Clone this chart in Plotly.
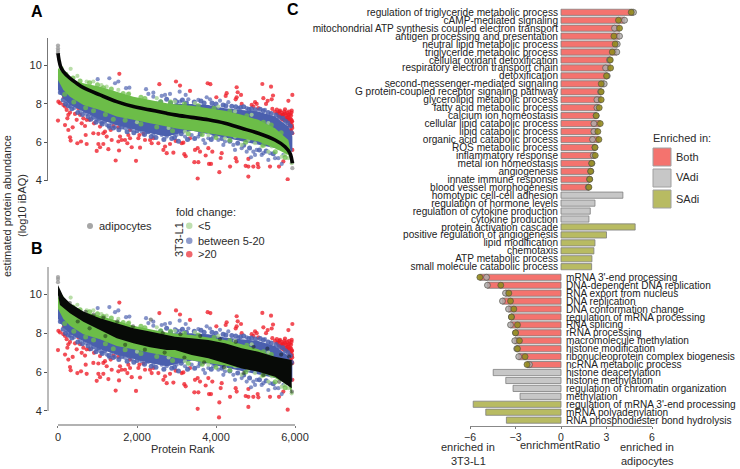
import plotly.graph_objects as go

W, H = 740, 469
FONT = "Liberation Sans"
INK = "#2b2b2b"

# ---------- panels A / B: rank vs log10 iBAQ ----------
adipo_curve_rank = [0, 25, 66, 136, 304, 473, 642, 1064, 1486, 1908, 2330, 2752, 2962, 3384, 3806, 4228, 4650, 5072, 5494, 5747, 5874, 5933]
adipo_curve_value = [10.64, 10.3, 9.95, 9.69, 9.34, 9.08, 8.85, 8.47, 8.12, 7.86, 7.69, 7.51, 7.43, 7.3, 7.17, 6.99, 6.73, 6.47, 6.12, 5.77, 5.43, 4.9]
adipo_top_a_rank = [0, 0, 0, 0, 5933, 5933]
adipo_top_a_value = [11.05, 10.9, 10.78, 10.65, 4.95, 4.65]
adipo_top_b_rank = [0, 0, 0]
adipo_top_b_value = [10.88, 10.78, 10.62]

green_top_rank = [0, 136, 304, 473, 642, 1064, 1486, 1908, 2330, 2752, 2962, 3384, 3806, 4228, 4650, 5072, 5494, 5832, 5916]
green_top_value = [9.86, 9.6, 9.34, 9.17, 9.08, 8.9, 8.64, 8.38, 8.2, 8.04, 7.98, 7.9, 7.78, 7.65, 7.43, 7.17, 6.73, 6.12, 5.25]
green_low_rank = [0, 136, 304, 642, 1064, 1486, 1908, 2330, 2752, 2962, 3806, 4650, 5072, 5494, 5832, 5916]
green_low_value = [9.25, 8.73, 8.38, 7.95, 7.69, 7.34, 7.17, 6.99, 6.82, 6.73, 6.47, 6.2, 6.04, 5.69, 5.34, 4.9]

blue_top_rank = [0, 642, 1486, 2330, 2962, 3384, 3806, 4228, 4650, 5072, 5494, 5832, 5933]
blue_top_value = [9.5, 8.6, 8.0, 7.8, 8.0, 8.0, 7.95, 7.78, 7.69, 7.6, 7.34, 6.82, 6.3]
blue_low_rank = [0, 136, 304, 642, 1064, 1486, 1908, 2330, 2752, 2962, 3400, 5933]
blue_low_value = [8.73, 8.3, 7.95, 7.6, 7.17, 6.9, 6.68, 6.47, 6.3, 6.4, 6.6, 5.5]

black_top_rank = [0, 136, 304, 642, 1064, 1486, 1908, 2330, 2752, 2962, 3384, 3806, 4228, 4650, 5072, 5494, 5916]
black_top_value = [10.48, 9.88, 9.54, 9.11, 8.77, 8.51, 8.25, 8.08, 7.91, 7.82, 7.74, 7.65, 7.48, 7.22, 7.05, 6.79, 6.62]
black_low_rank = [0, 50, 304, 642, 1064, 1486, 1908, 2330, 2752, 2962, 3384, 3806, 4228, 4650, 5072, 5494, 5916]
black_low_value = [9.96, 9.45, 9.02, 8.59, 8.16, 7.74, 7.48, 7.27, 7.14, 7.14, 6.88, 6.71, 6.45, 6.19, 6.02, 5.76, 5.17]
black_dot_rank = [300, 520, 700, 900, 1150, 1500, 1900, 2350, 2650, 3100, 3600, 4100, 4500, 4950, 5300, 5650, 5850, 5900, 5800, 5600, 5200, 4700, 4200, 3700, 3200, 2700, 2200, 1700, 1200, 800, 500, 5920, 5880]
black_dot_value = [9.55, 9.1, 9.1, 8.95, 8.8, 8.6, 8.35, 8.7, 8.0, 7.95, 7.85, 7.7, 7.55, 7.3, 7.2, 6.9, 6.8, 6.4, 6.2, 5.5, 5.85, 5.95, 6.25, 6.5, 6.75, 7.0, 7.15, 7.4, 7.85, 8.25, 8.6, 5.0, 5.6]

green_dot_rank = [321, 490, 726, 895, 1233, 1528, 2962, 3468, 4059, 4481, 4903, 5325, 3215, 3806, 4228, 4650, 4481, 4819, 4988, 5156, 5325, 5410, 5578, 5663, 5747, 5832, 5916, 3468, 1100, 1800, 2500, 2000, 2800]
green_dot_value = [9.83, 9.46, 9.17, 9.17, 8.9, 8.73, 8.12, 8.04, 7.86, 7.6, 7.43, 7.0, 6.56, 6.38, 6.21, 5.86, 6.3, 6.12, 5.95, 5.78, 5.51, 5.78, 5.69, 5.25, 5.34, 5.17, 4.91, 6.73, 8.98, 8.55, 8.3, 7.05, 6.75]
green_edge_rank = [80, 200, 380, 560, 800, 1000, 1150, 1350, 1650, 1780, 2100, 2200, 2600, 2850, 3200, 3550, 3950, 4350, 4780, 5200, 5400, 5650, 170, 400, 700, 900, 1200, 1400, 1700, 2100, 2500, 2900, 3300, 3650, 4000, 4350, 4750, 5200, 5500, 5750]
green_edge_value = [9.85, 9.55, 9.35, 9.2, 9.1, 9.0, 8.85, 8.78, 8.55, 8.5, 8.35, 8.28, 8.12, 8.1, 8.0, 7.9, 7.78, 7.62, 7.38, 7.05, 6.9, 6.5, 8.5, 8.1, 7.8, 7.65, 7.45, 7.2, 7.15, 6.95, 6.8, 6.6, 6.45, 6.4, 6.25, 6.1, 6.0, 5.85, 5.5, 5.2]

blue_dot_rank = [1005, 1300, 1528, 1444, 1722, 1807, 2229, 2288, 2414, 2414, 2625, 2710, 2836, 93, 220, 304, 406, 558, 726, 853, 980, 1064, 1233, 1359, 1444, 1570, 1697, 1866, 1950, 2119, 2246, 2414, 2541, 2625, 2752, 2921, 2457, 2161, 1100, 1300, 3080, 3232, 2962, 3089, 3300, 3553, 3764, 3848, 4101, 4312, 3933, 4566, 4777, 5241, 3004, 3215, 3384, 3679, 3806, 3933, 4059, 4186, 4228, 4439, 4481, 4650, 4777, 4945, 5030, 4988, 4886, 5156, 5199, 5325, 5494, 5578, 5367, 5705, 5663, 3173, 3553, 3722]
blue_dot_value = [9.29, 9.34, 9.17, 9.08, 8.82, 8.85, 8.77, 8.52, 8.59, 8.38, 8.42, 8.47, 8.52, 8.56, 8.12, 7.86, 7.78, 7.6, 7.48, 7.43, 7.17, 7.08, 6.9, 6.99, 6.78, 6.9, 6.73, 6.64, 6.78, 6.56, 6.56, 6.38, 6.5, 6.38, 6.3, 6.47, 6.73, 6.85, 7.0, 6.75, 8.64, 8.47, 8.21, 8.12, 8.24, 8.21, 8.35, 8.24, 8.17, 8.09, 7.86, 7.78, 7.78, 7.69, 6.38, 6.3, 6.38, 6.12, 6.21, 6.3, 6.12, 5.86, 6.04, 5.86, 5.6, 5.69, 5.51, 5.51, 5.6, 5.34, 5.22, 5.34, 5.43, 5.08, 5.17, 5.17, 5.43, 5.34, 4.87, 6.56, 6.3, 5.95]
blue_edge_rank = [60, 130, 190, 260, 350, 500, 620, 680, 760, 830, 900, 960, 1030, 1120, 1180, 1290, 1400, 1480, 1540, 1620, 1750, 1800, 1920, 2000, 2080, 2190, 2280, 2360, 2480, 2590, 2680, 2800, 2880, 2950, 3050, 3120, 3280, 3460, 3600, 3880, 3990, 4150, 4350, 4550, 4700, 4850, 5100, 5270, 5450,
                  2500, 2600, 2750, 2850, 3000, 3150, 3250, 3450, 3620, 3700, 3900, 4000, 4180, 4250, 4400, 4500, 4620, 4700, 4830, 4900, 5000, 5120, 5200, 5320, 5400, 5520, 5600, 5690, 5760, 5820, 5880, 5910]
blue_edge_value = [8.6, 8.2, 8.0, 7.9, 7.75, 7.55, 7.45, 7.65, 7.35, 7.2, 7.3, 7.05, 7.25, 6.95, 7.1, 6.85, 6.75, 7.0, 6.65, 6.8, 6.55, 6.8, 6.5, 6.6, 6.7, 6.4, 6.55, 6.3, 6.25, 6.55, 6.15, 6.45, 6.2, 6.25, 6.05, 6.45, 6.15, 6.2, 6.45, 6.15, 6.4, 6.2, 6.05, 5.95, 5.85, 5.7, 5.6, 5.55, 5.4,
                   8.0, 8.1, 8.25, 8.05, 8.12, 8.2, 8.05, 8.1, 8.15, 8.05, 8.05, 8.0, 7.95, 7.9, 7.88, 7.85, 7.82, 7.85, 7.72, 7.75, 7.7, 7.72, 7.65, 7.55, 7.5, 7.42, 7.3, 7.25, 7.1, 7.0, 6.85, 6.5]

red_rank = [10, 152, 51, 178, 220, 136, 262, 304, 515, 431, 0, 178, 237, 473, 558, 642, 726, 794, 600, 684, 372, 262, 912, 1064, 1190, 1402, 1528, 304, 321, 490, 583, 701, 726, 895, 1022, 1148, 1233, 1359, 1022, 1064, 1148, 1275, 980, 1545, 1460, 1975, 1553, 2566, 1824, 1781, 1570, 1613, 1528, 1697, 1756, 1824, 1866, 2077, 2060, 2161, 2035, 2203, 2330, 2414, 2541, 2372, 2710, 2836, 2752, 2668, 2921, 1334,
            2987, 3089, 3789, 3857, 3342, 4523, 5173, 5393, 4270, 4245, 4549, 4633, 4523, 4498, 4009, 5443, 5933, 5199, 5832, 5916, 5308, 5266, 5410, 4650, 4903, 4988, 5030, 4945, 5072, 5426, 5494, 5578, 5663, 5747, 5832, 5874, 5916, 5789, 5705, 5916, 5874, 5933, 2979, 3131, 3173, 3342, 3468, 3536, 3595, 3806, 3907, 3198, 3232, 3738, 4144, 4118, 3452, 3553, 3823, 3874, 4498, 4523, 4085, 4355, 3536, 4751, 4819, 4945, 5055, 5072, 4819, 5367, 5595, 5705, 4819, 5815, 5933,
            5600, 5650, 5700, 5750, 5800, 5850, 5880, 5900, 5920, 5900, 5860, 5780, 5820, 5540, 5620, 4076,
            5550, 5610, 5670, 5720, 5770, 5830, 5870, 5900, 5925, 5890, 5930, 5850, 5800, 5730, 5680, 5910]
red_value = [8.12, 8.35, 8.04, 7.86, 7.69, 7.95, 7.43, 7.55, 7.78, 7.48, 7.13, 6.9, 7.25, 7.17, 7.43, 7.25, 7.17, 7.17, 6.99, 6.85, 6.78, 6.64, 6.99, 6.82, 6.56, 6.85, 6.78, 6.26, 6.09, 5.95, 6.04, 6.38, 5.91, 6.47, 6.44, 6.47, 6.3, 6.12, 5.91, 5.74, 5.91, 5.64, 5.55, 5.57, 5.05, 5.03, 9.57, 9.03, 6.64, 6.38, 6.3, 6.12, 6.04, 6.12, 5.95, 6.21, 5.74, 5.72, 6.38, 6.44, 6.21, 6.12, 6.12, 6.21, 5.95, 5.95, 5.78, 5.91, 5.43, 5.6, 5.46, 6.64,
             9.17, 8.96, 9.08, 9.03, 8.68, 8.87, 9.04, 8.9, 8.56, 8.42, 8.61, 8.47, 8.35, 8.24, 8.35, 8.44, 8.47, 8.3, 8.16, 7.65, 8.16, 8.0, 8.24, 8.0, 7.95, 8.09, 8.0, 7.86, 7.78, 7.74, 7.6, 7.51, 7.55, 7.72, 7.43, 7.25, 7.08, 7.17, 7.43, 6.82, 6.64, 6.47, 6.07, 5.95, 5.98, 6.21, 5.6, 5.69, 5.51, 5.69, 5.51, 5.38, 5.27, 5.31, 5.43, 5.18, 4.96, 4.96, 4.87, 4.87, 5.17, 5.0, 4.44, 4.73, 4.11, 4.77, 4.73, 4.73, 4.87, 4.7, 5.13, 4.73, 4.73, 5.0, 4.21, 4.07, 5.6,
             7.6, 7.4, 7.3, 7.5, 7.3, 7.6, 7.0, 7.4, 6.9, 6.6, 6.9, 7.4, 7.1, 7.7, 7.65, 3.67,
             7.5, 7.35, 7.2, 7.15, 7.25, 7.3, 7.45, 7.2, 7.1, 6.9, 6.75, 7.15, 7.55, 7.6, 7.45, 7.55]

abundance_ticks = [4, 6, 8, 10]
rank_ticks = [0, 2000, 4000, 6000]
rank_tick_labels = ["0", "2,000", "4,000", "6,000"]

# ---------- panel C: enrichment ratios ----------
both_up_terms = ["regulation of triglyceride metabolic process", "cAMP-mediated signaling", "mitochondrial ATP synthesis coupled electron transport", "antigen processing and presentation", "neutral lipid metabolic process", "triglyceride metabolic process", "cellular oxidant detoxification", "respiratory electron transport chain", "detoxification", "second-messenger-mediated signaling", "G protein-coupled receptor signaling pathway", "glycerolipid metabolic process", "fatty acid metabolic process", "calcium ion homeostasis", "cellular lipid catabolic process", "lipid catabolic process", "organic acid catabolic process", "ROS metabolic process", "inflammatory response", "metal ion homeostasis", "angiogenesis", "innate immune response", "blood vessel morphogenesis"]
both_up_sadi = [4.63, 3.79, 3.86, 3.49, 3.57, 3.38, 3.25, 3.27, 3.0, 2.65, 2.65, 2.65, 2.52, 2.32, 2.59, 2.43, 2.5, 2.24, 2.26, 2.02, 1.95, 1.89, 1.84]
both_up_vadi = [4.78, 4.19, 3.53, 3.86, 3.71, 3.68, 3.2, 2.94, 3.05, 2.85, 2.61, 2.37, 2.37, 2.32, 2.17, 2.17, 2.08, 2.24, 2.13, 2.04, 1.97, 1.89, 1.8]
vadi_up_terms = ["homotypic cell-cell adhesion", "regulation of hormone levels", "regulation of cytokine production", "cytokine production"]
vadi_up_values = [4.08, 2.24, 1.93, 1.84]
sadi_up_terms = ["protein activation cascade", "positive regulation of angiogenesis", "lipid modification", "chemotaxis", "ATP metabolic process", "small molecule catabolic process"]
sadi_up_values = [4.89, 3.0, 2.24, 2.17, 2.04, 2.02]

both_down_terms = ["mRNA 3'-end processing", "DNA-dependent DNA replication", "RNA export from nucleus", "DNA replication", "DNA conformation change", "regulation of mRNA processing", "RNA splicing", "rRNA processing", "macromolecule methylation", "histone modification", "ribonucleoprotein complex biogenesis", "ncRNA metabolic process"]
both_down_sadi = [-5.35, -3.97, -3.44, -3.33, -3.11, -3.27, -2.87, -3.0, -2.74, -2.87, -2.37, -2.24]
both_down_vadi = [-4.91, -4.85, -3.66, -3.86, -3.46, -3.27, -3.33, -3.0, -3.05, -2.92, -2.79, -2.08]
vadi_down_terms = ["histone deacetylation", "histone methylation", "regulation of chromatin organization", "methylation"]
vadi_down_values = [-4.47, -3.64, -3.16, -2.7]
sadi_down_terms = ["regulation of mRNA 3'-end processing", "mRNA polyadenylation", "RNA phosphodiester bond hydrolysis"]
sadi_down_values = [-5.79, -4.96, -3.6]
ratio_ticks = [-6, -3, 0, 3, 6]

both_up_bar = [max(a, b) for a, b in zip(both_up_sadi, both_up_vadi)]
both_down_bar = [min(a, b) for a, b in zip(both_down_sadi, both_down_vadi)]

# ---------- styles ----------
C_RED, C_BLUE, C_GREEN, C_PALE = "#ee1c28", "#4a5fae", "#6cbd48", "#a9d694"
C_GREY = "#9a9a9a"
C_BOTH, C_VADI, C_SADI = "#f4736e", "#c7c7c7", "#b8bb62"
DOT_SADI, DOT_VADI = "rgba(150,140,30,0.9)", "rgba(175,170,170,0.85)"
EDGE = "#7d7d7d"


def px_x(p):
    return p / W


def px_y(p):
    return 1 - p / H


fig = go.Figure()


def dots(x, y, color, xa, ya, size=4.2, opacity=0.78):
    fig.add_trace(go.Scatter(x=x, y=y, mode="markers", xaxis=xa, yaxis=ya, showlegend=False, hoverinfo="skip",
                             marker=dict(color=color, size=size, opacity=opacity, line=dict(width=0))))


def band(xt, yt, xl, yl, color, xa, ya):
    fig.add_trace(go.Scatter(x=list(xt) + list(xl)[::-1], y=list(yt) + list(yl)[::-1], mode="none", fill="toself",
                             fillcolor=color, xaxis=xa, yaxis=ya, showlegend=False, hoverinfo="skip"))


for xa, ya, panel in (("x", "y", "A"), ("x2", "y2", "B")):
    dots(adipo_top_a_rank if panel == "A" else adipo_top_b_rank,
         adipo_top_a_value if panel == "A" else adipo_top_b_value, C_GREY, xa, ya, opacity=0.8)
    dots(red_rank, red_value, C_RED, xa, ya)
    dots(blue_dot_rank, blue_dot_value, C_BLUE, xa, ya, opacity=0.68)
    dots(blue_edge_rank, blue_edge_value, C_BLUE, xa, ya, size=5, opacity=0.85)
    band(blue_top_rank, blue_top_value, blue_low_rank, blue_low_value, C_BLUE, xa, ya)
    dots(green_dot_rank, green_dot_value, C_PALE, xa, ya, opacity=0.8)
    dots(green_edge_rank, green_edge_value, C_GREEN, xa, ya, size=5, opacity=0.75)
    band(green_top_rank, green_top_value, green_low_rank, green_low_value, C_GREEN, xa, ya)
    if panel == "A":
        fig.add_trace(go.Scatter(x=adipo_curve_rank, y=adipo_curve_value, mode="lines", xaxis=xa, yaxis=ya,
                                 line=dict(color="#050505", width=3.6, shape="spline"), showlegend=False, hoverinfo="skip"))
    else:
        dots(black_dot_rank, black_dot_value, "rgba(10,20,10,0.65)", xa, ya, opacity=0.7)
        band(black_top_rank, black_top_value, black_low_rank, black_low_value, "#070a07", xa, ya)


def bars(terms, values, color, xa, ya):
    fig.add_trace(go.Bar(y=terms, x=values, orientation="h", xaxis=xa, yaxis=ya, width=0.78, showlegend=False,
                         marker=dict(color=color, line=dict(color=EDGE, width=0.8)), hoverinfo="skip"))


def cdots(terms, values, color, xa, ya):
    fig.add_trace(go.Scatter(y=terms, x=values, mode="markers", xaxis=xa, yaxis=ya, showlegend=False, hoverinfo="skip",
                             marker=dict(color=color, size=6, line=dict(color="rgba(80,80,70,0.9)", width=0.7))))


bars(both_up_terms, both_up_bar, C_BOTH, "x3", "y3")
bars(vadi_up_terms, vadi_up_values, C_VADI, "x3", "y3")
bars(sadi_up_terms, sadi_up_values, C_SADI, "x3", "y3")
cdots(both_up_terms, both_up_vadi, DOT_VADI, "x3", "y3")
cdots(both_up_terms, both_up_sadi, DOT_SADI, "x3", "y3")

bars(both_down_terms, both_down_bar, C_BOTH, "x4", "y4")
bars(vadi_down_terms, vadi_down_values, C_VADI, "x4", "y4")
bars(sadi_down_terms, sadi_down_values, C_SADI, "x4", "y4")
cdots(both_down_terms, both_down_vadi, DOT_VADI, "x4", "y4")
cdots(both_down_terms, both_down_sadi, DOT_SADI, "x4", "y4")

up_terms = both_up_terms + vadi_up_terms + sadi_up_terms
down_terms = both_down_terms + vadi_down_terms + sadi_down_terms

tickfont = dict(family=FONT, size=11, color=INK)
labelfont = dict(family=FONT, size=10.1, color="#222222")
RANGE_X = [-253, 6101]
XDOM = [px_x(48), px_x(299)]
CDOM = [px_x(470), px_x(652)]
ZERO = px_x(561)

layout = dict(
    width=W, height=H, margin=dict(l=0, r=0, t=0, b=0, autoexpand=False), paper_bgcolor="white", plot_bgcolor="white",
    barmode="overlay", showlegend=False, font=dict(family=FONT, color=INK),
    xaxis=dict(domain=XDOM, range=RANGE_X, visible=False, anchor="y"),
    yaxis=dict(domain=[px_y(181), px_y(38)], range=[3.98, 11.44], anchor="x", tickvals=abundance_ticks, ticks="outside", ticklen=3,
               tickcolor="#555", showline=True, linecolor="#777", linewidth=1, showgrid=False, zeroline=False, tickfont=tickfont),
    xaxis2=dict(domain=XDOM, range=RANGE_X, anchor="y2", tickvals=rank_ticks, ticktext=rank_tick_labels, ticks="outside", ticklen=2,
                tickcolor="#777", showline=False, showgrid=False, zeroline=False, tickfont=tickfont),
    yaxis2=dict(domain=[px_y(425), px_y(267)], range=[3.28, 11.4], anchor="x2", tickvals=abundance_ticks, ticks="outside", ticklen=3,
                tickcolor="#555", showline=False, showgrid=False, zeroline=False, tickfont=tickfont),
    xaxis3=dict(domain=CDOM, range=[-6, 6], visible=False, anchor="y3"),
    yaxis3=dict(domain=[px_y(270.7), px_y(8.3)], type="category", categoryorder="array", categoryarray=up_terms, range=[32.5, -0.5],
                anchor="free", position=ZERO, side="left", tickmode="array", tickvals=up_terms, ticktext=up_terms,
                ticks="", ticklabelstandoff=3, showgrid=False, showline=False, zeroline=False, tickfont=labelfont),
    xaxis4=dict(domain=CDOM, range=[-6, 6], anchor="y4", tickvals=ratio_ticks, ticks="outside", ticklen=2, tickcolor="#777",
                showline=True, linecolor="#888", linewidth=1, showgrid=False, zeroline=False, tickfont=dict(family=FONT, size=10.5, color=INK)),
    yaxis4=dict(domain=[px_y(425.7), px_y(273.3)], type="category", categoryorder="array", categoryarray=down_terms, range=[18.7, -0.5],
                anchor="free", position=ZERO, side="right", tickmode="array", tickvals=down_terms, ticktext=down_terms,
                ticks="", ticklabelstandoff=4, showgrid=False, showline=False, zeroline=False, tickfont=labelfont),
)

shapes = [
    dict(type="line", xref="x2 domain", x0=0, x1=0, yref="y2", y0=4, y1=11.4, line=dict(color="#777", width=1)),
    dict(type="line", xref="x2", x0=0, x1=6000, yref="y2 domain", y0=0, y1=0, line=dict(color="#999", width=1.4)),
]


def sw(x0, y0, x1, y1, color, kind="rect", line=None):
    shapes.append(dict(type=kind, xref="paper", yref="paper", x0=px_x(x0), x1=px_x(x1), y0=px_y(y1), y1=px_y(y0),
                       fillcolor=color, line=line or dict(width=0)))


sw(87, 223, 93, 229, "#a6a6a6", "circle")
sw(186, 222.5, 192.5, 229, "#bfdfb0", "circle")
sw(186, 237.5, 192.5, 244, "#8e9bcb", "circle")
sw(186, 251, 192.5, 257.5, "#f0666c", "circle")
for y0, col in ((148, C_BOTH), (169, C_VADI), (190, C_SADI)):
    sw(653, y0, 671, y0 + 18, col, "rect", dict(color="#a0a0a0", width=1))
layout["shapes"] = shapes

anns = []


def txt(x, y, s, size=11, anchor="left", angle=0, bold=False, color=INK):
    anns.append(dict(xref="paper", yref="paper", x=px_x(x), y=px_y(y), text=f"<b>{s}</b>" if bold else s, showarrow=False,
                     xanchor=anchor, yanchor="middle", textangle=angle, font=dict(family=FONT, size=size, color=color)))


txt(37, 11, "A", 16, "center", bold=True, color="black")
txt(37, 248, "B", 16, "center", bold=True, color="black")
txt(293, 10, "C", 16, "center", bold=True, color="black")
txt(7, 206, "estimated protein abundance", 11, "center", -90)
txt(22, 206, "(log10 iBAQ)", 11, "center", -90)
txt(97, 226, "adipocytes", 11)
txt(174, 212, "fold change:", 11)
txt(179, 240, "3T3-L1", 11, "center", -90)
txt(196, 226, "&lt;5", 11)
txt(196, 240.5, "between 5-20", 11)
txt(196, 254, "&gt;20", 11)
txt(183, 449, "Protein Rank", 11, "center")
txt(651, 138, "Enriched in:", 11)
txt(674, 157, "Both", 11)
txt(674, 177.5, "VAdi", 11)
txt(674, 199, "SAdi", 11)
txt(468, 447, "enriched in", 11, "center")
txt(468, 461, "3T3-L1", 11, "center")
txt(560, 445, "enrichmentRatio", 11, "center")
txt(647, 447, "enriched in", 11, "center")
txt(647, 461, "adipocytes", 11, "center")
layout["annotations"] = anns

fig.update_layout(**layout)
fig.write_html("out.html", config={"displayModeBar": False},
               post_script="document.body.style.margin='0';document.documentElement.style.overflow='hidden';")
